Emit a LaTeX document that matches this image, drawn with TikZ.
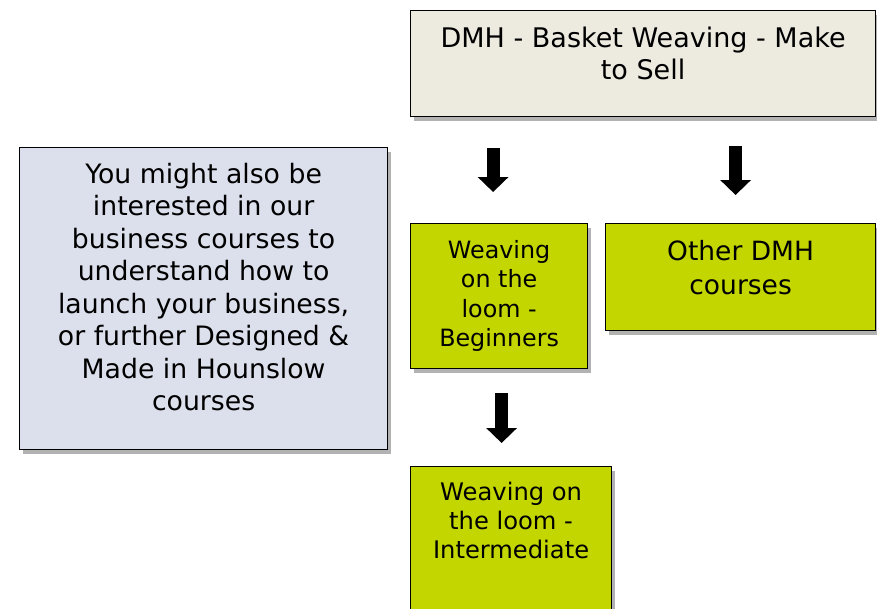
\documentclass[tikz,border=0pt]{standalone}
\usepackage{fontspec}
\setmainfont{DejaVu Sans}
\usepackage[HTML]{xcolor}
\usetikzlibrary{positioning, arrows.meta, shadows}
\definecolor{paper}{HTML}{EDEAE0}
\definecolor{slate}{HTML}{DCE0EC}
\definecolor{lime}{HTML}{C4D600}
\begin{document}
\begin{tikzpicture}[x=1pt, y=-1pt,
  box/.style={draw, line width=1.2pt, align=center, inner sep=0pt, anchor=north west,
    drop shadow={shadow xshift=3pt, shadow yshift=-4pt, fill=black, opacity=.3}},
  fatarrow/.style={line width=13pt, -{Triangle[width=30pt,length=15pt]}}]
\useasboundingbox (0,0) rectangle (877,608);
\clip (0,0) rectangle (877,608);
% boxes
\node[box, fill=paper, minimum width=465pt, minimum height=106pt, text depth=20pt,
  font=\fontsize{27}{32}\selectfont] (T) at (410,10) {DMH - Basket Weaving - Make\\to Sell};
\node[box, fill=slate, minimum width=368pt, minimum height=302pt, text depth=24pt,
  font=\fontsize{26.7}{32.5}\selectfont] (L) at (19,147)
  {You might also be\\interested in our\\business courses to\\understand how to\\launch your business,\\or further Designed \&\\Made in Hounslow\\courses};
\node[box, fill=lime, minimum width=177pt, minimum height=145pt,
  font=\fontsize{23.8}{29.5}\selectfont] (B) at (410,223) {Weaving\\on the\\loom -\\Beginners};
\node[box, fill=lime, minimum width=270pt, minimum height=107pt, text depth=19pt,
  font=\fontsize{26.5}{34}\selectfont] (O) at (605,223) {Other DMH\\courses};
\node[box, fill=lime, minimum width=201pt, minimum height=180pt, text depth=72pt,
  font=\fontsize{24.2}{29}\selectfont] (I) at (410,466) {Weaving on\\the loom -\\Intermediate};
% arrows
\draw[fatarrow, shorten <=31pt, shorten >=31pt] ([xshift=-6pt]B.north |- T.south) -- ([xshift=-6pt]B.north);
\draw[fatarrow, shorten <=29pt, shorten >=28pt] ([xshift=-5pt]O.north |- T.south) -- ([xshift=-5pt]O.north);
\draw[fatarrow, shorten <=24pt, shorten >=23pt] ([xshift=2.5pt]B.south) -- ([xshift=2.5pt]B.south |- I.north);
\end{tikzpicture}
\end{document}
